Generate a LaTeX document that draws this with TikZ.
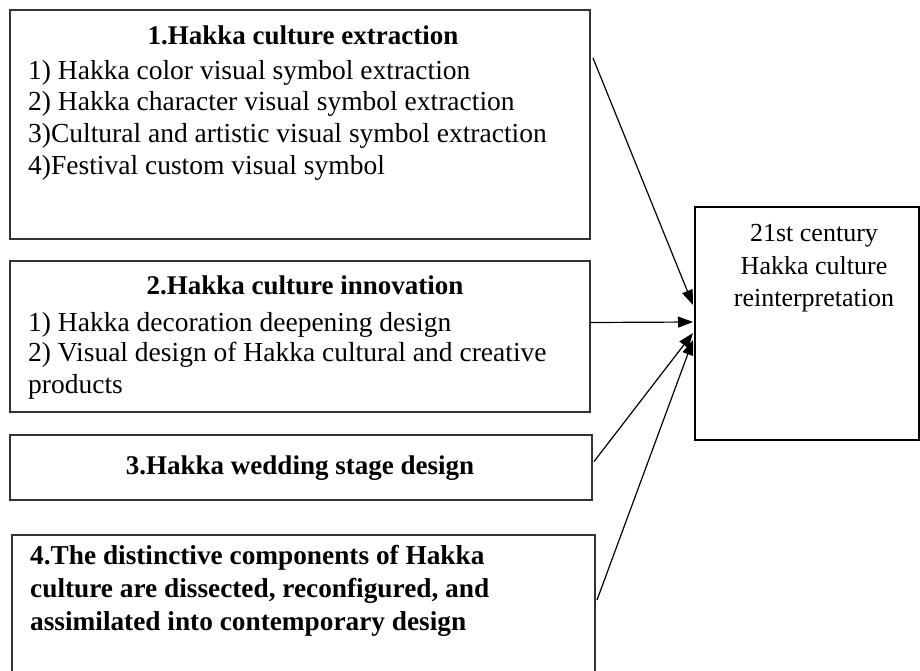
\documentclass[tikz,border=0pt]{standalone}
\usepackage{fontspec}
\setmainfont{Liberation Serif}
\usetikzlibrary{arrows.meta,calc}
\begin{document}
\begin{tikzpicture}[x=1pt,y=-1pt,
  box/.style={draw=black!80, line width=1.2pt, anchor=north west, inner sep=0pt, outer sep=0pt},
  bigbox/.style={draw=black, line width=2.4pt, anchor=north west, inner sep=0pt, outer sep=0pt},
  txt/.style={inner sep=0pt, anchor=base west, font=\fontsize{27.5}{31}\selectfont},
  ttl/.style={inner sep=0pt, anchor=base, font=\fontsize{27}{31}\selectfont\bfseries},
  ttll/.style={inner sep=0pt, anchor=base west, font=\fontsize{27.3}{32}\selectfont\bfseries},
  ctr/.style={inner sep=0pt, anchor=base, font=\fontsize{26}{30}\selectfont},
  arr/.style={line width=1.2pt, -{Triangle[length=15pt,width=11pt]}}]
\useasboundingbox (0,0) rectangle (920,670);
% boxes
\node[box, minimum width=580pt, minimum height=229pt] (b1) at (10,10) {};
\node[box, minimum width=580pt, minimum height=151pt] (b2) at (10,261) {};
\node[box, minimum width=582pt, minimum height=65pt] (b3) at (10,435) {};
\node[box, minimum width=583pt, minimum height=140pt] (b4) at (12,535) {};
\node[bigbox, minimum width=224pt, minimum height=233pt] (rb) at (695,207) {};
% box 1 text
\node[ttl] (t1) at (303,44) {1.Hakka culture extraction};
\node[txt] (t1a) at (28,79) {1) Hakka color visual symbol extraction};
\node[txt] (t1b) at (28,110) {2) Hakka character visual symbol extraction};
\node[txt] (t1c) at (28,142) {3)Cultural and artistic visual symbol extraction};
\node[txt] (t1d) at (28,174) {4)Festival custom visual symbol};
% box 2 text
\node[ttl] (t2) at (305,294) {2.Hakka culture innovation};
\node[txt] (t2a) at (28,331) {1) Hakka decoration deepening design};
\node[txt] (t2b) at (28,361) {2) Visual design of Hakka cultural and creative};
\node[txt] (t2c) at (28,393) {products};
% box 3 text
\node[ttl] (t3) at (300,474) {3.Hakka wedding stage design};
% box 4 text
\node[ttll] (t4a) at (30,564) {4.The distinctive components of Hakka};
\node[ttll] (t4b) at (30,597) {culture are dissected, reconfigured, and};
\node[ttll] (t4c) at (30,630) {assimilated into contemporary design};
% right box text
\node[ctr] (r1) at (814,241) {21st century};
\node[ctr] (r2) at (814,274) {Hakka culture};
\node[ctr] (r3) at (814,306) {reinterpretation};
% connectors
\coordinate (s1) at ($(b1.north east)+(3,48)$);
\coordinate (s2) at ($(b2.east)+(0,-14)$);
\coordinate (s3) at ($(b3.east)+(2,-6)$);
\coordinate (s4) at ($(b4.north east)+(2,65)$);
\coordinate (e1) at ($(rb.north west)+(-2,98)$);
\coordinate (e2) at ($(rb.north west)+(-2,115)$);
\coordinate (e3) at ($(rb.north west)+(-2,126)$);
\coordinate (e4) at ($(rb.north west)+(-2,133)$);
\draw[arr] (s1) -- (e1);
\draw[arr] (s2) -- (e2);
\draw[arr] (s3) -- (e3);
\draw[arr] (s4) -- (e4);
\end{tikzpicture}
\end{document}
